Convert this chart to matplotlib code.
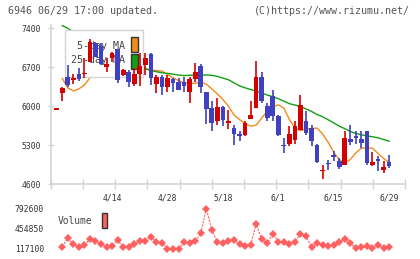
import numpy as np
import matplotlib
matplotlib.use("Agg")
import matplotlib.pyplot as plt
from matplotlib.patches import Rectangle
from matplotlib.transforms import blended_transform_factory

# daily prices 3/31 .. 6/29
opens = [5940, 6230, 6520, 6470, 6575, 6580, 6790, 7130, 7080, 6700,
         6870, 7020, 6560, 6610, 6400, 6580, 6740, 6930, 6395, 6530,
         6340, 6490, 6440, 6440, 6260, 6490, 6730, 6260, 5975, 5725,
         5993, 5700, 5605, 5500, 5485, 5770, 5965, 6520, 6005, 6175,
         5825, 5300, 5325, 5395, 5575, 5725, 5605, 5305, 4830, 4970,
         5125, 5005, 4935, 5410, 5465, 5410, 5555, 4935, 5055, 4845, 4995]
highs = [5955, 6340, 6740, 6580, 6680, 6870, 7210, 7150, 7140, 6860,
         6980, 7030, 6670, 6650, 6680, 6950, 6950, 6950, 6560, 6560,
         6560, 6500, 6500, 6530, 6530, 6785, 6760, 6260, 6085, 6155,
         6000, 5935, 5665, 5545, 5740, 6100, 6820, 6620, 6055, 6290,
         5850, 5425, 5645, 5740, 6200, 5915, 5665, 5320, 4945, 5035,
         5200, 5065, 5555, 5665, 5545, 5555, 5560, 5175, 5095, 5020, 5125]
lows = [5940, 6100, 6350, 6400, 6455, 6510, 6790, 6880, 6740, 6620,
        6800, 6410, 6550, 6340, 6365, 6370, 6560, 6380, 6230, 6200,
        6260, 6260, 6290, 6260, 6055, 6440, 6235, 5680, 5545, 5665,
        5650, 5590, 5305, 5365, 5455, 5770, 5960, 6055, 5740, 5740,
        5465, 5155, 5290, 5325, 5575, 5485, 5290, 4970, 4690, 4855,
        5005, 4875, 4935, 5295, 5320, 5245, 4945, 4915, 4825, 4800, 4885]
closes = [5955, 6330, 6380, 6500, 6490, 6600, 7150, 6890, 6750, 6750,
          6950, 6470, 6650, 6430, 6575, 6730, 6860, 6500, 6530, 6340,
          6515, 6410, 6290, 6370, 6490, 6620, 6350, 5950, 5695, 5993,
          5755, 5725, 5500, 5465, 5705, 5845, 6520, 6085, 5785, 5815,
          5485, 5285, 5500, 5645, 6025, 5525, 5365, 4990, 4855, 4955,
          5080, 4900, 5425, 5355, 5425, 5335, 4975, 4995, 5005, 4900, 4915]

nan = np.nan
ma5 = [nan, 6500, 6330, 6275, 6310, 6380, 6510, 6726, 6776, 6828,
       6898, 6762, 6714, 6650, 6615, 6571, 6665, 6650, 6640, 6630,
       6570, 6510, 6460, 6420, 6410, 6410, 6430, 6395, 6310, 6220,
       6120, 6000, 5840, 5760, 5690, 5640, 5660, 5785, 5910, 5990,
       6025, 5965, 5760, 5610, 5560, 5585, 5600, 5605, 5500, 5350,
       5170, 5040, 4975, 5040, 5160, 5245, 5245, 5245, 5150, 5060, 4990]
ma25 = [nan, 7450, 7400, 7340, 7280, 7220, 7160, 7100, 7050, 7000,
        6950, 6900, 6850, 6800, 6760, 6720, 6680, 6640, 6620, 6600,
        6590, 6575, 6560, 6550, 6555, 6560, 6560, 6560, 6555, 6535,
        6505, 6475, 6420, 6365, 6330, 6300, 6270, 6240, 6200, 6170,
        6135, 6090, 6045, 6020, 5990, 5950, 5905, 5850, 5810, 5755,
        5700, 5640, 5595, 5545, 5510, 5485, 5465, 5450, 5430, 5400, 5370]

volume = [nan, 155000, 295000, 200000, 155000, 184000, 284000, 250000, 200000, 145000,
          167000, 267000, 145000, 145000, 200000, 250000, 250000, 322000, 229000, 222000,
          117100, 117100, 117100, 229000, 222000, 250000, 379000, 792600, 434000, 229000,
          212000, 255000, 267000, 200000, 167000, 184000, 534000, 279000, 212000, 367000,
          239000, 239000, 200000, 239000, 367000, 334000, 145000, 212000, 184000, 167000,
          184000, 239000, 284000, 222000, 129000, 145000, 167000, 129000, 184000, 129000, 155000]

date_labels = ["4/14", "4/28", "5/18", "6/1", "6/15", "6/29"]
date_idx = [10, 20, 30, 40, 50, 60]
price_ticks = [4600, 5300, 6000, 6700, 7400]
vol_ticks = [117100, 454850, 792600]

UP = "#d40000"
DOWN = "#4040c0"
GRID = "#d4d4d4"
TXT = "#333333"
MONO = "DejaVu Sans Mono"

plt.rcParams["font.family"] = MONO

fig = plt.figure(figsize=(4.2, 2.59), dpi=100)
W, H = 420, 259

ax = fig.add_axes([50.7 / W, 1 - 184 / H, (405 - 50.7) / W, (184 - 25) / H])
x = np.arange(len(opens))
ax.set_xlim(-1.083, 62.87)
ax.set_ylim(4600, 7460)

# moving averages
ax.plot(x, ma5, color="#f08c1c", lw=1, zorder=2)
ax.plot(x, ma25, color="#10a010", lw=1, zorder=2)

# candles
o = np.array(opens, float); c = np.array(closes, float)
cols = [UP if cc >= oo else DOWN for oo, cc in zip(o, c)]
ax.vlines(x, lows, highs, colors=cols, lw=1.2, zorder=4)
bottoms = np.minimum(o, c)
heights = np.maximum(np.abs(c - o), 20)
ax.bar(x, heights, bottom=bottoms, width=0.85, color=cols, lw=0, zorder=4)

# legend box (sits behind candles, over the lines)
ax.add_patch(Rectangle((0.0404, 0.673), 0.22, 0.2956, transform=ax.transAxes,
                       facecolor="white", edgecolor=GRID, lw=1, zorder=3))
ax.text(0.2097, 0.868, "5-day MA", transform=ax.transAxes, ha="right", va="center",
        fontsize=7.2, color="#444444", zorder=3.5)
ax.text(0.2097, 0.777, "25-day MA", transform=ax.transAxes, ha="right", va="center",
        fontsize=7.2, color="#444444", zorder=3.5)
ax.add_patch(Rectangle((0.2267, 0.830), 0.0198, 0.0945, transform=ax.transAxes,
                       facecolor="#f08c1c", edgecolor="#333333", lw=1, zorder=3.5))
ax.add_patch(Rectangle((0.2267, 0.7233), 0.0198, 0.0943, transform=ax.transAxes,
                       facecolor="#10a010", edgecolor="#333333", lw=1, zorder=3.5))

for s in ["top", "right"]:
    ax.spines[s].set_visible(False)
for s in ["left", "bottom"]:
    ax.spines[s].set_color(GRID)
    ax.spines[s].set_linewidth(1.2)

ax.set_yticks(price_ticks)
ax.set_yticklabels([str(v) for v in price_ticks])
ax.tick_params(axis="y", direction="inout", length=5, width=1, color=GRID,
               labelsize=5.8, labelcolor=TXT, pad=4.5)
ax.set_xticks(np.linspace(-1.083, 62.87, 12))
ax.set_xticklabels([])
ax.tick_params(axis="x", direction="inout", length=6.5, width=1, color=GRID)

tr = blended_transform_factory(ax.transData, ax.transAxes)
for i, lab in zip(date_idx, date_labels):
    ax.text(i, -0.088, lab, transform=tr, ha="center", va="center",
            fontsize=5.8, color=TXT)

# volume
vax = fig.add_axes([50.7 / W, 1 - 252 / H, (405 - 50.7) / W, 47 / H])
vax.set_xlim(-1.083, 62.87)
vax.set_ylim(117100 - 3 * 16680, 792600 + 3.5 * 16680)
vax.plot(x, volume, color="#ff6060", lw=0.8, ls=(0, (2, 1)), marker="D",
         markersize=4, markeredgewidth=0, clip_on=False)
for s in vax.spines.values():
    s.set_visible(False)
vax.set_xticks([])
vax.set_yticks(vol_ticks)
vax.set_yticklabels([str(v) for v in vol_ticks])
vax.tick_params(axis="y", length=0, labelsize=5.8, labelcolor=TXT, pad=4.8)

fig.text(58 / W, 1 - 221.5 / H, "Volume", ha="left", va="center", fontsize=6.9,
         color="#444444")
fig.patches.append(Rectangle((102 / W, 1 - 228 / H), 5 / W, 15 / H,
                             transform=fig.transFigure, facecolor="#ff6060",
                             edgecolor="#333333", lw=1))

# header
fig.text(8 / W, 1 - 11.5 / H, "6946 06/29 17:00 updated.", ha="left", va="center",
         fontsize=7.2, color="#555555")
fig.text(410 / W, 1 - 11.5 / H, "(C)https://www.rizumu.net/", ha="right", va="center",
         fontsize=7.2, color="#555555")

fig.savefig("out.png", dpi=100)
